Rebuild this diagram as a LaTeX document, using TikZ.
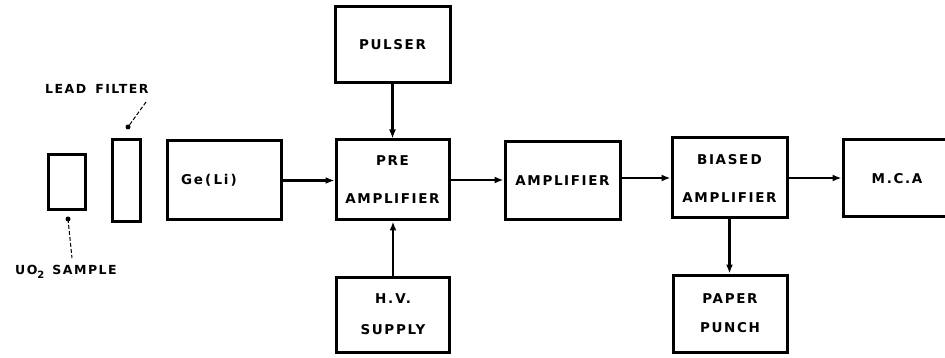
\documentclass[tikz,border=0pt]{standalone}
\usepackage{fontspec}
\usetikzlibrary{arrows.meta, positioning}
\newfontfamily\blockfont[LetterSpace=12]{DejaVu Sans}

\tikzset{
  unit/.style={draw, line width=3pt, align=center, inner sep=0pt,
    font=\blockfont\bfseries\fontsize{13.5}{38}\selectfont},
  signal/.style={line width=2.4pt, -{Latex[length=9pt,width=7pt]}},
  leader/.style={line width=1pt, dash pattern=on 4pt off 2pt},
  tag/.style={font=\blockfont\bfseries\fontsize{12.5}{14}\selectfont, inner sep=0pt}
}

\begin{document}
\begin{tikzpicture}[x=1pt, y=-1pt]
                \useasboundingbox (0,0) rectangle (945,358);
                \clip (0,0) rectangle (945,358);

                % Source side
                \node[unit, minimum width=37pt, minimum height=55pt] (sample) at (66.5,182.5) {};
                \node[unit, minimum width=28pt, minimum height=82pt] (filter) at (126,181) {};
                \node[unit, minimum width=114pt, minimum height=79pt] (gel) at (224,180.5) {\hspace*{-30pt}Ge\,(\,Li\,)};

                % Main chain
                \node[unit, minimum width=113pt, minimum height=80pt] (pre) at (392.5,180) {PRE\\AMPLIFIER};
                \node[unit, minimum width=115pt, minimum height=78pt] (amp) at (562.5,181) {AMPLIFIER};
                \node[unit, minimum width=115pt, minimum height=80pt] (biased) at (729.5,178) {BIASE\,D\\AMPLIFIER};
                \node[unit, minimum width=108pt, minimum height=77pt] (mca) at (897,178.5) {M.C.A};

                % Side units
                \node[unit, minimum width=115pt, minimum height=76pt] (pulser) at (392.5,45) {PULSER};
                \node[unit, minimum width=113pt, minimum height=75pt, font=\blockfont\bfseries\fontsize{13.5}{31}\selectfont] (hv) at (393,314.5) {H.\,V.\\SUPPLY};
                \node[unit, minimum width=114pt, minimum height=77pt, font=\blockfont\bfseries\fontsize{13.5}{29}\selectfont] (punch) at (730,313.5) {PAPER\\PUNCH};

                % Signal paths
                \draw[signal] (gel.east) -- (gel.east -| pre.west);
                \draw[signal] (pre.east) -- (pre.east -| amp.west);
                \draw[signal] (biased.west -| amp.east) -- (biased.west);
                \draw[signal] (biased.east) -- (biased.east -| mca.west);
                \draw[signal] (pulser.south) -- (pulser.south |- pre.north);
                \draw[signal] (hv.north) -- (hv.north |- pre.south);
                \draw[signal] (biased.south) -- (biased.south |- punch.north);

                % Labels with leaders
                \node[tag, anchor=west] (filtertag) at (45,89) {LEAD\hspace{9pt}FILTER};
                \coordinate (filtertip) at (128,127);
                \coordinate (filterend) at (146,102);
                \draw[leader] (filterend) -- (filtertip);
                \fill (filtertip) circle (2.5pt);

                \node[tag, anchor=west] (sampletag) at (15,272) {UO\raisebox{-4pt}{\fontsize{10}{10}\selectfont 2}\hspace{8pt}SAMPLE};
                \coordinate (sampletip) at (68,219);
                \coordinate (sampleend) at (72,258);
                \draw[leader] (sampletip) -- (sampleend);
                \fill (sampletip) circle (2.5pt);
            \end{tikzpicture}
\end{document}
